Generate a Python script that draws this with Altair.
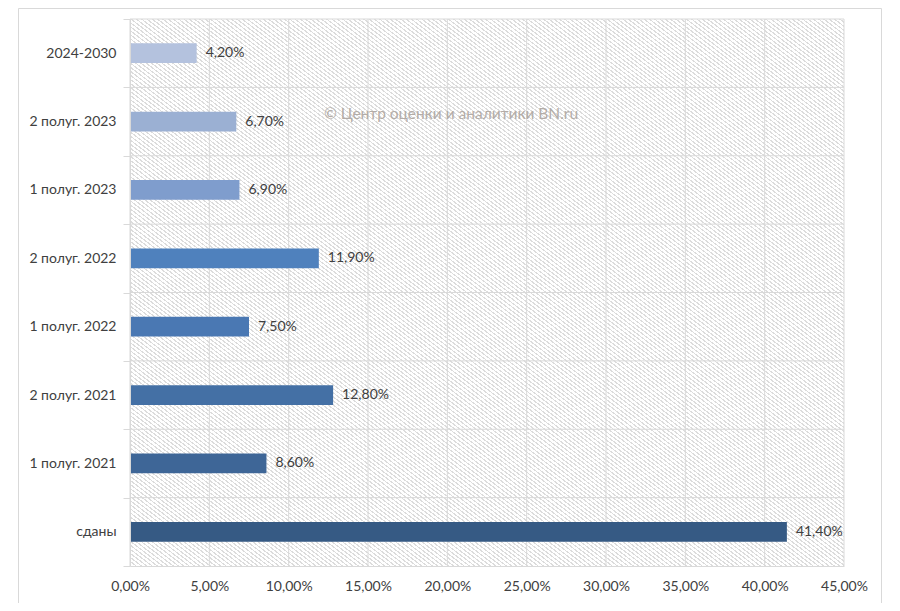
import altair as alt
import pandas as pd

categories = ["2024-2030", "2 полуг. 2023", "1 полуг. 2023", "2 полуг. 2022",
              "1 полуг. 2022", "2 полуг. 2021", "1 полуг. 2021", "сданы"]
values = [4.2, 6.7, 6.9, 11.9, 7.5, 12.8, 8.6, 41.4]
colors = ["#b4c2de", "#9bb0d3", "#7f9dcd", "#4f81bd",
          "#4a78b3", "#4470a5", "#3e6697", "#365a84"]
x_ticks = [0, 5, 10, 15, 20, 25, 30, 35, 40, 45]
watermark = "© Центр оценки и аналитики BN.ru"

W, H = 714, 547
FONT = "Lato"
FS = 14
GRID = "#d9d9d9"
TXT = "#404040"

df = pd.DataFrame({"cat": categories, "v": values})
ticks_df = pd.DataFrame({"t": x_ticks})
one = pd.DataFrame({"k": [0]})
wm_df = pd.DataFrame({"w": [watermark]})

# hatch pattern as a striped gradient (style only)
N = 270
frac = 0.35
LINE = "#dcdcdc"
stops = []
for i in range(N):
    a = round(i / N, 6)
    b = round((i + frac) / N, 6)
    c = round((i + 1) / N, 6)
    stops += [alt.GradientStop(offset=a, color=LINE),
              alt.GradientStop(offset=b, color=LINE),
              alt.GradientStop(offset=b, color="#ffffff"),
              alt.GradientStop(offset=c, color="#ffffff")]
hatch_fill = alt.LinearGradient(gradient="linear", stops=stops, x1=0, y1=1, x2=1, y2=0)

x_axis = alt.Axis(values=x_ticks, title=None, grid=False, ticks=False,
                  domainColor=GRID, labelFont=FONT, labelFontSize=FS,
                  labelColor=TXT, labelPadding=13, zindex=1, labelFlush=False,
                  labelExpr="replace(format(datum.value, '.2f'), '.', ',') + '%'")
x_scale = alt.Scale(domain=[0, 45], nice=False)
y_axis = alt.Axis(title=None, tickBand="extent", grid=False, domainColor=GRID,
                  tickColor=GRID, tickSize=7, labelPadding=7, labelFont=FONT,
                  labelFontSize=FS, labelColor=TXT, zindex=1)
y_scale = alt.Scale(paddingInner=0, paddingOuter=0)

hatch = alt.Chart(one).mark_rect(fill=hatch_fill, strokeWidth=0).encode(
    x=alt.value(0), x2=alt.value(W), y=alt.value(0), y2=alt.value(H))

vgrid = alt.Chart(ticks_df).mark_rule(color=GRID, strokeWidth=1).encode(
    x=alt.X("t:Q", scale=x_scale, axis=x_axis))

hgrid = alt.Chart(df).mark_rule(color=GRID, strokeWidth=1).encode(
    y=alt.Y("cat:N", sort=categories, scale=y_scale, axis=y_axis, bandPosition=0))

bars = alt.Chart(df).mark_bar(height={"band": 0.29}).encode(
    x=alt.X("v:Q", scale=x_scale, axis=x_axis),
    y=alt.Y("cat:N", sort=categories, scale=y_scale, axis=y_axis),
    color=alt.Color("cat:N", scale=alt.Scale(domain=categories, range=colors), legend=None),
)

labels = alt.Chart(df).transform_calculate(
    lab="replace(format(datum.v, '.2f'), '.', ',') + '%'"
).mark_text(align="left", baseline="middle", dx=9, font=FONT, fontSize=FS, color=TXT).encode(
    x=alt.X("v:Q", scale=x_scale, axis=x_axis),
    y=alt.Y("cat:N", sort=categories, scale=y_scale, axis=y_axis),
    text="lab:N",
)

wm = alt.Chart(wm_df).mark_text(align="center", baseline="middle", font=FONT,
                                fontSize=15.5, color="#b3aca7").encode(
    text="w:N", x=alt.value(321), y=alt.value(95))

border = alt.Chart(one).mark_rect(fillOpacity=0, stroke=GRID, strokeWidth=1).encode(
    x=alt.value(-111.5), x2=alt.value(751.5), y=alt.value(-10.5), y2=alt.value(586.5))

chart = alt.layer(hatch, vgrid, hgrid, bars, labels, wm, border).properties(
    width=W, height=H,
    padding={"left": 122, "top": 11, "right": 48, "bottom": 37},
    autosize="none",
).configure_view(stroke=None)

chart.save("out.html", embed_options={"renderer": "svg", "actions": False})
